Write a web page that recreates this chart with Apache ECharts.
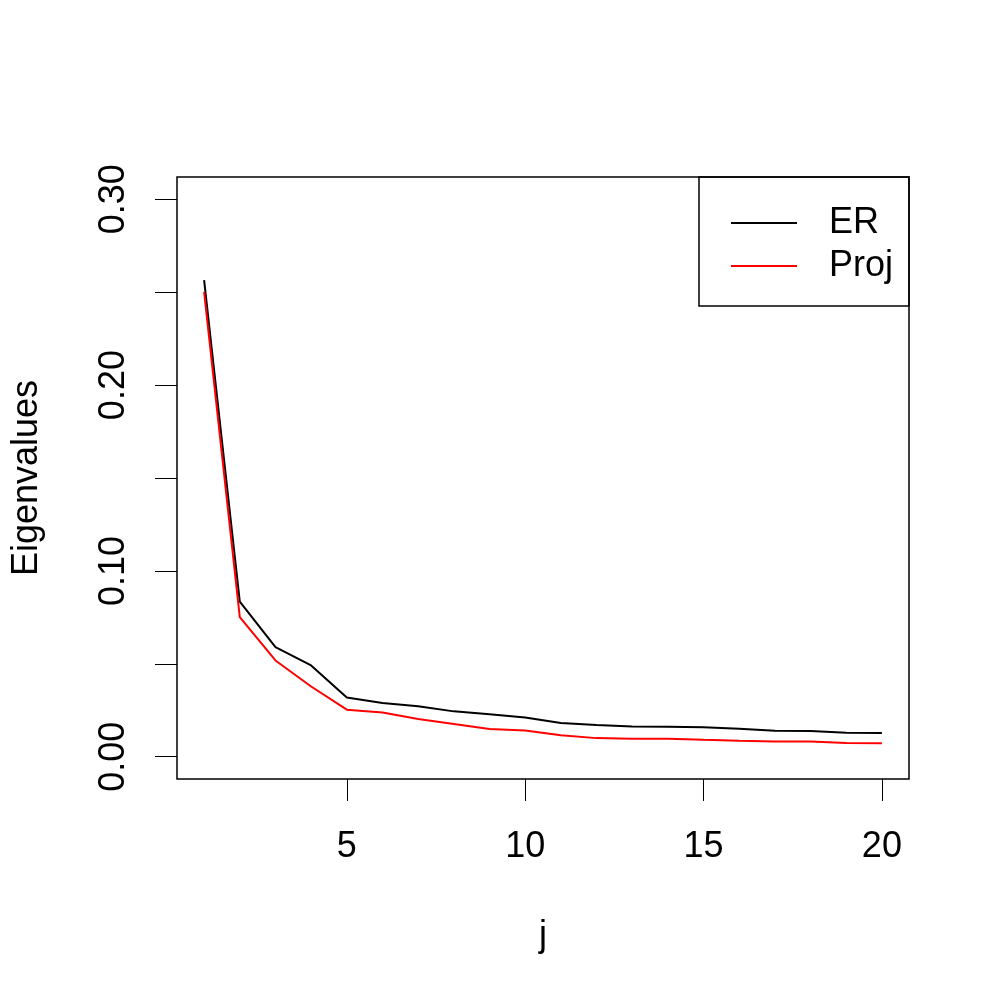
<!DOCTYPE html>
<html>
<head>
<meta charset="utf-8">
<script src="https://cdn.jsdelivr.net/npm/echarts@6/dist/echarts.min.js"></script>
<style>html,body{margin:0;padding:0;background:#fff}#c{width:1000px;height:1000px}</style>
</head>
<body>
<div id="c"></div>
<script>
const jValues = [1,2,3,4,5,6,7,8,9,10,11,12,13,14,15,16,17,18,19,20];
const erValues = [0.2565,0.0835,0.0590,0.0491,0.0319,0.0289,0.0271,0.0244,0.0229,0.0211,0.0181,0.0170,0.0163,0.0161,0.0158,0.0151,0.0140,0.0138,0.0129,0.0127];
const projValues = [0.2502,0.0751,0.0518,0.0378,0.0253,0.0238,0.0203,0.0176,0.0149,0.0141,0.0115,0.0100,0.0097,0.0097,0.0091,0.0086,0.0082,0.0082,0.0074,0.0072];
const xTickLabels = [5,10,15,20];
const yTickLabels = [0, 0.1, 0.2, 0.3];
const yTicks = [0, 0.05, 0.1, 0.15, 0.2, 0.25, 0.3];
const seriesNames = ['ER','Proj'];

const FONT = 'Liberation Sans, Arial, Helvetica, sans-serif';
const chart = echarts.init(document.getElementById('c'), null, {renderer:'canvas'});
chart.setOption({
  animation: false,
  backgroundColor: '#fff',
  textStyle: {fontFamily: FONT},
  grid: {left:177, top:177, width:732, height:602, show:true, borderColor:'#000', borderWidth:1.5, containLabel:false},
  legend: {
    orient:'vertical', left:731, top:205, padding:0, itemGap:7,
    itemWidth:66, itemHeight:2, icon:'rect',
    textStyle:{fontSize:36, fontFamily:FONT, color:'#000', lineHeight:36, padding:[0,0,0,27]},
    data: seriesNames
  },
  graphic: [{type:'rect', shape:{x:699, y:177, width:210, height:129}, style:{fill:'none', stroke:'#000', lineWidth:1.5}, z:100}],
  xAxis: {
    type:'value', min:0.24, max:20.76,
    name:'j', nameLocation:'middle', nameGap:139,
    nameTextStyle:{fontSize:36, fontFamily:FONT, color:'#000'},
    axisLine:{show:false, onZero:false},
    splitLine:{show:false},
    axisTick:{show:true, inside:false, length:22, lineStyle:{color:'#000', width:1}, customValues:xTickLabels},
    axisLabel:{fontSize:36, fontFamily:FONT, color:'#000', margin:50, customValues:xTickLabels}
  },
  yAxis: {
    type:'value', min:-0.012, max:0.312,
    name:'Eigenvalues', nameLocation:'middle', nameGap:132,
    nameTextStyle:{fontSize:36, fontFamily:FONT, color:'#000'},
    axisLine:{show:false, onZero:false},
    splitLine:{show:false},
    axisTick:{show:true, inside:false, length:22, lineStyle:{color:'#000', width:1}, customValues:yTicks},
    axisLabel:{fontSize:36, fontFamily:FONT, color:'#000', margin:45, rotate:90, customValues:yTickLabels, formatter:v=>v.toFixed(2)}
  },
  series: [
    {name:seriesNames[0], type:'line', data:jValues.map((j,i)=>[j,erValues[i]]), showSymbol:false, lineStyle:{color:'#000', width:2}, itemStyle:{color:'#000'}},
    {name:seriesNames[1], type:'line', data:jValues.map((j,i)=>[j,projValues[i]]), showSymbol:false, lineStyle:{color:'#ff0000', width:2}, itemStyle:{color:'#ff0000'}}
  ]
});
</script>
</body>
</html>
